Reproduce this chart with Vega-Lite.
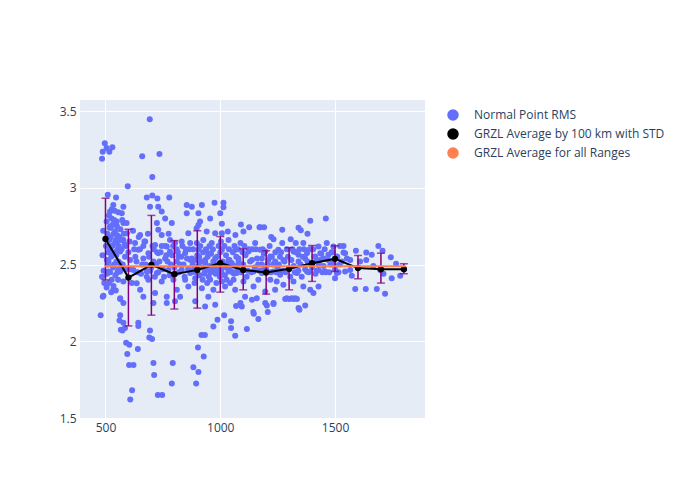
{
  "$schema": "https://vega.github.io/schema/vega-lite/v6.json",
  "width": 345,
  "height": 318,
  "autosize": {"type": "none"},
  "padding": {"left": 80, "top": 100, "right": 275, "bottom": 82},
  "background": "white",
  "config": {
    "view": {"fill": "#E5ECF6", "stroke": null},
    "font": "Open Sans",
    "axis": {"domain": false, "ticks": false, "gridColor": "white", "gridWidth": 1, "labelColor": "#2a3f5f", "labelFont": "Open Sans", "labelFontSize": 12, "title": null},
    "legend": {"labelFont": "Open Sans", "labelFontSize": 12, "labelColor": "#2a3f5f", "labelLimit": 400, "orient": "right", "offset": 13, "padding": 9, "symbolSize": 100, "labelOffset": 15, "rowPadding": 3}
  },
  "datasets": {
    "avg": [
      {"x": 500, "m": 2.667, "lo": 2.40, "hi": 2.932},
      {"x": 600, "m": 2.415, "lo": 2.10, "hi": 2.73},
      {"x": 700, "m": 2.498, "lo": 2.17, "hi": 2.82},
      {"x": 800, "m": 2.437, "lo": 2.21, "hi": 2.656},
      {"x": 900, "m": 2.465, "lo": 2.216, "hi": 2.72},
      {"x": 1000, "m": 2.509, "lo": 2.32, "hi": 2.682},
      {"x": 1100, "m": 2.465, "lo": 2.335, "hi": 2.602},
      {"x": 1200, "m": 2.448, "lo": 2.307, "hi": 2.59},
      {"x": 1300, "m": 2.472, "lo": 2.335, "hi": 2.61},
      {"x": 1400, "m": 2.509, "lo": 2.39, "hi": 2.624},
      {"x": 1500, "m": 2.537, "lo": 2.455, "hi": 2.622},
      {"x": 1600, "m": 2.477, "lo": 2.407, "hi": 2.559},
      {"x": 1700, "m": 2.47, "lo": 2.379, "hi": 2.574},
      {"x": 1800, "m": 2.47, "lo": 2.44, "hi": 2.505}
    ],
    "overall": [{"x": 497, "x2": 1808, "y": 2.488}],
    "points": [
      {"x":497,"y":3.29},{"x":488,"y":3.235},{"x":505,"y":3.26},{"x":517,"y":3.235},{"x":530,"y":3.264},{"x":485,"y":3.19},{"x":693,"y":3.446},{"x":660,"y":3.205},{"x":735,"y":3.22},{"x":704,"y":3.07},{"x":597,"y":3.01},{"x":510,"y":2.955},{"x":546,"y":2.936},{"x":680,"y":2.936},{"x":704,"y":2.95},{"x":726,"y":2.93},{"x":778,"y":2.936},
      {"x":488,"y":2.29},{"x":479,"y":2.17},{"x":564,"y":2.275},{"x":564,"y":2.17},{"x":578,"y":2.12},{"x":567,"y":2.075},{"x":574,"y":2.07},{"x":585,"y":2.086},{"x":590,"y":1.99},{"x":604,"y":1.977},{"x":595,"y":1.917},{"x":603,"y":1.845},{"x":622,"y":1.845},{"x":616,"y":1.68},{"x":608,"y":1.62},{"x":641,"y":1.95},{"x":643,"y":2.12},{"x":643,"y":2.10},{"x":694,"y":2.07},{"x":691,"y":2.025},{"x":703,"y":2.015},{"x":709,"y":1.858},{"x":712,"y":1.78},{"x":728,"y":1.65},{"x":747,"y":1.65},{"x":793,"y":1.858},{"x":789,"y":1.724},{"x":883,"y":1.83},{"x":905,"y":1.80},{"x":895,"y":1.724},{"x":903,"y":1.96},{"x":928,"y":1.90},{"x":918,"y":2.04},{"x":933,"y":2.04},{"x":970,"y":2.097},{"x":988,"y":2.14},{"x":1017,"y":2.17},{"x":1047,"y":2.13},{"x":1047,"y":2.086},{"x":1065,"y":2.036},{"x":1116,"y":2.08},{"x":1069,"y":2.23},{"x":1144,"y":2.19},{"x":561,"y":2.135},
      {"x":534,"y":2.888},{"x":578,"y":2.877},{"x":694,"y":2.877},{"x":730,"y":2.877},{"x":745,"y":2.845},{"x":520,"y":2.845},{"x":571,"y":2.834},{"x":527,"y":2.80},{"x":549,"y":2.78},{"x":578,"y":2.77},{"x":724,"y":2.77},{"x":760,"y":2.80},{"x":789,"y":2.77},{"x":520,"y":2.747},{"x":542,"y":2.715},{"x":593,"y":2.704},{"x":651,"y":2.693},{"x":730,"y":2.726},{"x":745,"y":2.693},{"x":781,"y":2.66},{"x":803,"y":2.64},{"x":513,"y":2.672},{"x":549,"y":2.64},{"x":578,"y":2.66},{"x":629,"y":2.64},{"x":673,"y":2.65},{"x":716,"y":2.628},{"x":767,"y":2.617},{"x":520,"y":2.596},{"x":564,"y":2.585},{"x":643,"y":2.596},{"x":687,"y":2.574},{"x":730,"y":2.574},{"x":781,"y":2.585},{"x":506,"y":2.53},{"x":556,"y":2.52},{"x":607,"y":2.53},{"x":665,"y":2.54},{"x":709,"y":2.52},{"x":760,"y":2.54},{"x":811,"y":2.52},{"x":513,"y":2.455},{"x":564,"y":2.455},{"x":622,"y":2.465},{"x":680,"y":2.455},{"x":724,"y":2.444},{"x":774,"y":2.465},{"x":527,"y":2.40},{"x":578,"y":2.39},{"x":636,"y":2.378},{"x":687,"y":2.40},{"x":745,"y":2.39},{"x":796,"y":2.40},{"x":491,"y":2.296},{"x":534,"y":2.335},{"x":564,"y":2.281},{"x":651,"y":2.335},{"x":665,"y":2.29},{"x":716,"y":2.314},{"x":767,"y":2.29},{"x":811,"y":2.335},{"x":578,"y":2.249},{"x":709,"y":2.249},{"x":767,"y":2.249},{"x":803,"y":2.26},
      {"x":854,"y":2.888},{"x":876,"y":2.877},{"x":905,"y":2.834},{"x":854,"y":2.834},{"x":920,"y":2.888},{"x":975,"y":2.903},{"x":1014,"y":2.903},{"x":1014,"y":2.873},{"x":1000,"y":2.834},{"x":956,"y":2.80},{"x":912,"y":2.78},{"x":905,"y":2.758},{"x":897,"y":2.737},{"x":1007,"y":2.765},{"x":1090,"y":2.76},{"x":1126,"y":2.743},{"x":1174,"y":2.743},{"x":1007,"y":2.704},{"x":1033,"y":2.715},{"x":1066,"y":2.693},{"x":1101,"y":2.715},{"x":978,"y":2.704},{"x":941,"y":2.715},{"x":861,"y":2.704},{"x":832,"y":2.65},{"x":869,"y":2.64},{"x":926,"y":2.66},{"x":963,"y":2.64},{"x":1036,"y":2.66},{"x":1088,"y":2.64},{"x":1152,"y":2.64},{"x":1174,"y":2.596},{"x":1123,"y":2.585},{"x":1066,"y":2.596},{"x":1007,"y":2.596},{"x":948,"y":2.574},{"x":905,"y":2.596},{"x":847,"y":2.574},{"x":818,"y":2.552},{"x":876,"y":2.54},{"x":934,"y":2.53},{"x":978,"y":2.54},{"x":1036,"y":2.53},{"x":1079,"y":2.54},{"x":1138,"y":2.53},{"x":1181,"y":2.54},{"x":832,"y":2.465},{"x":869,"y":2.444},{"x":934,"y":2.455},{"x":985,"y":2.444},{"x":1036,"y":2.455},{"x":1072,"y":2.444},{"x":1145,"y":2.455},{"x":1181,"y":2.444},{"x":847,"y":2.40},{"x":891,"y":2.41},{"x":956,"y":2.40},{"x":1007,"y":2.39},{"x":1058,"y":2.40},{"x":1101,"y":2.39},{"x":1166,"y":2.40},{"x":861,"y":2.357},{"x":920,"y":2.346},{"x":970,"y":2.335},{"x":1021,"y":2.357},{"x":1065,"y":2.335},{"x":1145,"y":2.357},{"x":825,"y":2.29},{"x":948,"y":2.29},{"x":1108,"y":2.29},{"x":1159,"y":2.281},{"x":891,"y":2.26},{"x":978,"y":2.238},{"x":1088,"y":2.249},{"x":1138,"y":2.27},{"x":934,"y":2.227},{"x":1094,"y":2.227},
      {"x":1460,"y":2.80},{"x":1392,"y":2.786},{"x":1341,"y":2.74},{"x":1351,"y":2.724},{"x":1380,"y":2.70},{"x":1270,"y":2.726},{"x":1191,"y":2.743},{"x":1171,"y":2.743},{"x":1222,"y":2.68},{"x":1232,"y":2.665},{"x":1307,"y":2.665},{"x":1329,"y":2.64},{"x":1362,"y":2.64},{"x":1270,"y":2.64},{"x":1253,"y":2.596},{"x":1428,"y":2.617},{"x":1464,"y":2.64},{"x":1493,"y":2.617},{"x":1196,"y":2.585},{"x":1218,"y":2.552},{"x":1319,"y":2.585},{"x":1341,"y":2.563},{"x":1378,"y":2.574},{"x":1414,"y":2.552},{"x":1436,"y":2.574},{"x":1471,"y":2.563},{"x":1508,"y":2.552},{"x":1544,"y":2.574},{"x":1239,"y":2.52},{"x":1275,"y":2.53},{"x":1341,"y":2.52},{"x":1370,"y":2.54},{"x":1421,"y":2.52},{"x":1450,"y":2.54},{"x":1486,"y":2.52},{"x":1530,"y":2.52},{"x":1552,"y":2.54},{"x":1188,"y":2.465},{"x":1232,"y":2.455},{"x":1261,"y":2.433},{"x":1334,"y":2.444},{"x":1378,"y":2.455},{"x":1428,"y":2.465},{"x":1457,"y":2.455},{"x":1508,"y":2.444},{"x":1544,"y":2.455},{"x":1218,"y":2.40},{"x":1246,"y":2.39},{"x":1275,"y":2.368},{"x":1319,"y":2.39},{"x":1362,"y":2.357},{"x":1392,"y":2.335},{"x":1428,"y":2.357},{"x":1500,"y":2.41},{"x":1196,"y":2.324},{"x":1239,"y":2.335},{"x":1290,"y":2.281},{"x":1312,"y":2.281},{"x":1327,"y":2.281},{"x":1232,"y":2.249},{"x":1196,"y":2.249},{"x":1341,"y":2.216},
      {"x":1166,"y":2.145},{"x":1146,"y":2.18},{"x":1207,"y":2.19},{"x":1232,"y":2.242},{"x":1203,"y":2.233},{"x":1345,"y":2.205},{"x":1370,"y":2.233},{"x":1283,"y":2.275},{"x":1301,"y":2.275},{"x":1319,"y":2.275},{"x":1334,"y":2.275},{"x":1588,"y":2.34},{"x":1634,"y":2.34},{"x":1682,"y":2.34},{"x":1718,"y":2.31},{"x":1406,"y":2.314},
      {"x":1747,"y":2.41},{"x":1784,"y":2.427},{"x":1689,"y":2.62},{"x":1707,"y":2.59},{"x":1743,"y":2.548},{"x":1766,"y":2.505},{"x":1591,"y":2.59},{"x":1636,"y":2.578},{"x":1660,"y":2.563},{"x":1636,"y":2.53},{"x":1566,"y":2.53},{"x":1537,"y":2.62},{"x":1537,"y":2.578},{"x":1522,"y":2.62},{"x":1566,"y":2.465},{"x":1573,"y":2.427},{"x":1609,"y":2.52},{"x":1667,"y":2.49},{"x":1711,"y":2.44},{"x":1697,"y":2.465},
      {"x":485,"y":2.42},{"x":487,"y":2.56},{"x":490,"y":2.72},{"x":492,"y":2.46},{"x":495,"y":2.38},
      {"x":502,"y":2.62},{"x":505,"y":2.78},{"x":508,"y":2.7},{"x":510,"y":2.5},{"x":512,"y":2.58},{"x":515,"y":2.82},{"x":518,"y":2.66},{"x":520,"y":2.45},{"x":523,"y":2.74},{"x":525,"y":2.55},{"x":528,"y":2.86},{"x":530,"y":2.62},{"x":533,"y":2.48},{"x":535,"y":2.7},{"x":538,"y":2.79},{"x":540,"y":2.58},{"x":543,"y":2.43},{"x":545,"y":2.66},{"x":548,"y":2.52},{"x":550,"y":2.75},{"x":553,"y":2.6},{"x":556,"y":2.84},{"x":558,"y":2.47},{"x":560,"y":2.68},{"x":505,"y":2.35},{"x":515,"y":2.38},{"x":525,"y":2.32},{"x":535,"y":2.36},{"x":545,"y":2.33},{"x":555,"y":2.4},{"x":565,"y":2.73},{"x":570,"y":2.6},{"x":575,"y":2.5},{"x":580,"y":2.7},{"x":585,"y":2.55},{"x":590,"y":2.62},
      {"x":600,"y":2.58},{"x":610,"y":2.47},{"x":620,"y":2.72},{"x":630,"y":2.55},{"x":640,"y":2.45},{"x":650,"y":2.6},{"x":660,"y":2.5},{"x":670,"y":2.65},{"x":680,"y":2.42},{"x":690,"y":2.55},{"x":700,"y":2.48},{"x":710,"y":2.6},{"x":720,"y":2.5},{"x":730,"y":2.45},{"x":740,"y":2.58},{"x":750,"y":2.47},{"x":760,"y":2.62},{"x":770,"y":2.52},{"x":780,"y":2.43},{"x":790,"y":2.56},{"x":800,"y":2.48},{"x":810,"y":2.6},{"x":820,"y":2.45},{"x":830,"y":2.55},{"x":840,"y":2.5},{"x":850,"y":2.6},{"x":860,"y":2.47},{"x":870,"y":2.53},
      {"x":880,"y":2.5},{"x":885,"y":2.47},{"x":890,"y":2.53},{"x":895,"y":2.45},{"x":900,"y":2.56},{"x":905,"y":2.49},{"x":910,"y":2.43},{"x":915,"y":2.52},{"x":920,"y":2.48},{"x":925,"y":2.58},{"x":930,"y":2.44},{"x":935,"y":2.51},{"x":940,"y":2.47},{"x":945,"y":2.55},{"x":950,"y":2.42},{"x":955,"y":2.49},{"x":960,"y":2.57},{"x":965,"y":2.46},{"x":970,"y":2.52},{"x":975,"y":2.48},{"x":980,"y":2.44},{"x":985,"y":2.55},{"x":990,"y":2.5},{"x":995,"y":2.47},{"x":1000,"y":2.58},{"x":1005,"y":2.45},{"x":1010,"y":2.52},{"x":1015,"y":2.49},{"x":1020,"y":2.43},{"x":1025,"y":2.56},{"x":1030,"y":2.5},{"x":1035,"y":2.47},{"x":1040,"y":2.53},{"x":1045,"y":2.46},{"x":1050,"y":2.51},{"x":1055,"y":2.58},{"x":1060,"y":2.44},{"x":1065,"y":2.49},{"x":1070,"y":2.55},{"x":1075,"y":2.47},{"x":1080,"y":2.52},
      {"x":1100,"y":2.5},{"x":1110,"y":2.56},{"x":1120,"y":2.46},{"x":1130,"y":2.52},{"x":1140,"y":2.6},{"x":1150,"y":2.48},{"x":1160,"y":2.54},{"x":1170,"y":2.46},{"x":1180,"y":2.5},{"x":1190,"y":2.57},{"x":1200,"y":2.47},{"x":1210,"y":2.53},{"x":1220,"y":2.45},{"x":1230,"y":2.5},{"x":1240,"y":2.58},{"x":1250,"y":2.48},{"x":1260,"y":2.55},{"x":1270,"y":2.46},{"x":1280,"y":2.52},{"x":1290,"y":2.6},{"x":1300,"y":2.47},{"x":1310,"y":2.53},{"x":1320,"y":2.49},{"x":1330,"y":2.58},{"x":1340,"y":2.46},{"x":1350,"y":2.5},{"x":1360,"y":2.55},{"x":1370,"y":2.47},{"x":1380,"y":2.52},{"x":1390,"y":2.6},{"x":1400,"y":2.48},{"x":1410,"y":2.55},{"x":1420,"y":2.46},{"x":1430,"y":2.5},{"x":1440,"y":2.57},{"x":1450,"y":2.49},{"x":1460,"y":2.45},{"x":1470,"y":2.53},{"x":1480,"y":2.5},{"x":1490,"y":2.58},{"x":1500,"y":2.47},{"x":1510,"y":2.55},{"x":1520,"y":2.5},
      {"x":507,"y":2.44},{"x":513,"y":2.52},{"x":522,"y":2.68},{"x":527,"y":2.57},{"x":532,"y":2.76},{"x":537,"y":2.5},{"x":541,"y":2.64},{"x":547,"y":2.56},{"x":551,"y":2.69},{"x":557,"y":2.62},{"x":562,"y":2.51},{"x":568,"y":2.66},{"x":573,"y":2.79},{"x":583,"y":2.63},{"x":588,"y":2.47},{"x":592,"y":2.77},{"x":526,"y":2.62},{"x":518,"y":2.74},{"x":540,"y":2.85},{"x":552,"y":2.45},
      {"x":605,"y":2.65},{"x":615,"y":2.38},{"x":625,"y":2.6},{"x":635,"y":2.52},{"x":645,"y":2.68},{"x":655,"y":2.44},{"x":665,"y":2.62},{"x":675,"y":2.5},{"x":685,"y":2.7},{"x":695,"y":2.46},{"x":705,"y":2.62},{"x":715,"y":2.42},{"x":725,"y":2.58},{"x":735,"y":2.52},{"x":745,"y":2.62},{"x":755,"y":2.42},{"x":765,"y":2.56},{"x":775,"y":2.7},{"x":785,"y":2.5},{"x":795,"y":2.62},{"x":805,"y":2.44},{"x":815,"y":2.58},{"x":825,"y":2.5},{"x":835,"y":2.62},{"x":845,"y":2.42},{"x":855,"y":2.54},{"x":865,"y":2.6},{"x":875,"y":2.45},
      {"x":882,"y":2.6},{"x":888,"y":2.38},{"x":898,"y":2.64},{"x":908,"y":2.55},{"x":913,"y":2.62},{"x":923,"y":2.4},{"x":938,"y":2.6},{"x":943,"y":2.38},{"x":953,"y":2.62},{"x":958,"y":2.45},{"x":968,"y":2.6},{"x":983,"y":2.38},{"x":993,"y":2.62},{"x":998,"y":2.42},{"x":1003,"y":2.65},{"x":1012,"y":2.48},{"x":1018,"y":2.62},{"x":1028,"y":2.4},{"x":1038,"y":2.6},{"x":1043,"y":2.38},{"x":1053,"y":2.45},{"x":1062,"y":2.62},{"x":1078,"y":2.6},{"x":1085,"y":2.5},{"x":1092,"y":2.45},{"x":1097,"y":2.58},
      {"x":1105,"y":2.62},{"x":1115,"y":2.42},{"x":1125,"y":2.6},{"x":1135,"y":2.45},{"x":1155,"y":2.6},{"x":1165,"y":2.5},{"x":1185,"y":2.6},{"x":1205,"y":2.5},{"x":1215,"y":2.62},{"x":1225,"y":2.55},{"x":1245,"y":2.45},{"x":1255,"y":2.5},{"x":1265,"y":2.58},{"x":1285,"y":2.45},{"x":1295,"y":2.55},{"x":1305,"y":2.42},{"x":1315,"y":2.6},{"x":1325,"y":2.45},{"x":1345,"y":2.6},{"x":1355,"y":2.42},{"x":1365,"y":2.6},{"x":1385,"y":2.45},{"x":1395,"y":2.5},{"x":1405,"y":2.6},{"x":1415,"y":2.44},{"x":1435,"y":2.53},{"x":1445,"y":2.45},{"x":1455,"y":2.6},{"x":1475,"y":2.45},{"x":1485,"y":2.58},{"x":1495,"y":2.5},{"x":1515,"y":2.45}
    ]
  },
  "encoding": {
    "x": {"type": "quantitative", "title": null, "scale": {"domain": [389, 1892], "nice": false, "zero": false}, "axis": {"title": null, "values": [500, 1000, 1500], "format": "d", "labelPadding": 4}},
    "y": {"type": "quantitative", "title": null, "scale": {"domain": [1.5, 3.572], "nice": false, "zero": false}, "axis": {"title": null, "values": [1.5, 2, 2.5, 3, 3.5], "format": "~g", "labelPadding": 4}}
  },
  "layer": [
    {
      "data": {"name": "points"},
      "mark": {"type": "circle", "size": 36, "opacity": 1},
      "encoding": {
        "x": {"field": "x", "type": "quantitative", "title": null},
        "y": {"field": "y", "type": "quantitative", "title": null},
        "color": {
          "datum": "Normal Point RMS",
          "type": "nominal",
          "scale": {"domain": ["Normal Point RMS", "GRZL Average by 100 km with STD", "GRZL Average for all Ranges"], "range": ["#636efa", "#000000", "#FF7F50"]},
          "legend": {"title": null}
        }
      }
    },
    {
      "data": {"name": "avg"},
      "mark": {"type": "errorbar", "color": "purple", "thickness": 1.5, "ticks": {"size": 8, "thickness": 1.5, "color": "purple"}},
      "encoding": {
        "x": {"field": "x", "type": "quantitative", "title": null},
        "y": {"field": "lo", "type": "quantitative", "title": null},
        "y2": {"field": "hi"}
      }
    },
    {
      "data": {"name": "avg"},
      "mark": {"type": "line", "strokeWidth": 2, "point": {"filled": true, "size": 40}},
      "encoding": {
        "x": {"field": "x", "type": "quantitative", "title": null},
        "y": {"field": "m", "type": "quantitative", "title": null},
        "color": {"datum": "GRZL Average by 100 km with STD", "type": "nominal", "legend": null}
      }
    },
    {
      "data": {"name": "overall"},
      "mark": {"type": "rule", "strokeWidth": 2},
      "encoding": {
        "x": {"field": "x", "type": "quantitative", "title": null},
        "x2": {"field": "x2"},
        "y": {"field": "y", "type": "quantitative", "title": null},
        "color": {"datum": "GRZL Average for all Ranges", "type": "nominal", "legend": null}
      }
    }
  ]
}
